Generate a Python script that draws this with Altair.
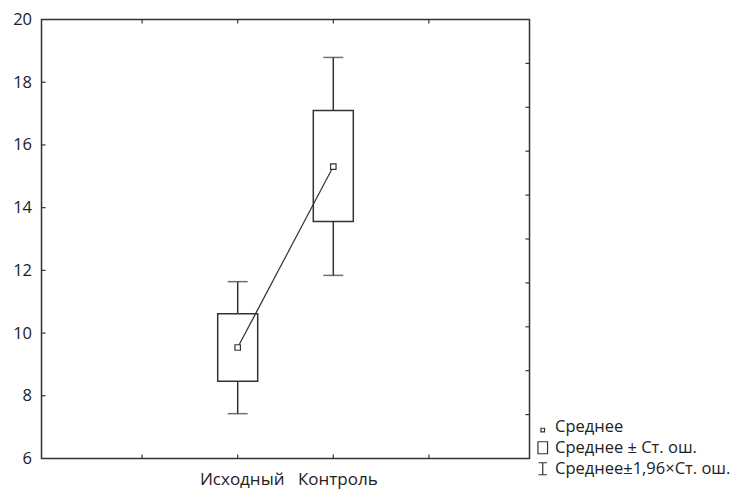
import altair as alt
import pandas as pd

# ---- data ----
categories = ["Исходный", "Контроль"]
means = [9.54, 15.31]
se_low = [8.46, 13.56]
se_high = [10.62, 17.10]
ci_low = [7.43, 11.84]
ci_high = [11.64, 18.79]

y_ticks_left = [8, 10, 12, 14, 16, 18]
y_ticks_right = [7.4, 8.8, 10.2, 11.6, 13.0, 14.4, 15.8, 17.2, 18.6]
x_ticks = [1, 2, 3, 4]

legend_items = ["Среднее", "Среднее ± Ст. ош.", "Среднее±1,96×Ст. ош."]

W, H = 488, 439
FONT = "Open Sans"
LINE = "#333333"
TEXT = "#222222"

df = pd.DataFrame({
    "cat": categories,
    "pos": [i + 2 for i in range(len(categories))],
    "mean": means,
    "se_lo": se_low,
    "se_hi": se_high,
    "ci_lo": ci_low,
    "ci_hi": ci_high,
})

label_expr = "datum.value == 2 ? '" + categories[0] + "' : datum.value == 3 ? '" + categories[1] + "' : ''"

xscale = alt.Scale(domain=[0, 5], nice=False, zero=False)
yscale = alt.Scale(domain=[6, 20], nice=False, zero=False)

x_enc = alt.X("pos:Q", scale=xscale, axis=alt.Axis(
    values=[2, 3], labelExpr=label_expr, title=None, grid=False, ticks=False,
    domain=False, labelFont=FONT, labelFontSize=17, labelColor=TEXT,
    labelPadding=13, labelOffset=4))
y_enc_axis = alt.Axis(values=[6, 8, 10, 12, 14, 16, 18, 20], title=None, grid=False,
                      ticks=False, domain=False, labelFont=FONT, labelFontSize=16.5,
                      labelColor=TEXT, labelPadding=10)

base = alt.Chart(df)

whisker = base.mark_rule(color=LINE, strokeWidth=1.5).encode(
    x=x_enc,
    y=alt.Y("ci_lo:Q", scale=yscale, axis=y_enc_axis),
    y2="ci_hi:Q",
)
cap_hi = base.mark_tick(orient="horizontal", size=20, thickness=1.5, color=LINE).encode(
    x="pos:Q", y="ci_hi:Q")
cap_lo = base.mark_tick(orient="horizontal", size=20, thickness=1.5, color=LINE).encode(
    x="pos:Q", y="ci_lo:Q")
box = base.mark_bar(size=40, fill="white", stroke=LINE, strokeWidth=1.5).encode(
    x="pos:Q", y="se_lo:Q", y2="se_hi:Q")
mean_line = base.mark_line(color=LINE, strokeWidth=1.2).encode(
    x="pos:Q", y="mean:Q")
mean_pt = base.mark_point(shape="square", size=30, filled=True, fill="white",
                          stroke=LINE, strokeWidth=1.2, opacity=1).encode(
    x="pos:Q", y="mean:Q")

# inward frame ticks
ly = alt.Chart(pd.DataFrame({"v": y_ticks_left})).mark_rule(color=LINE, strokeWidth=1.2).encode(
    y="v:Q", x=alt.value(0), x2=alt.value(4))
ry = alt.Chart(pd.DataFrame({"v": y_ticks_right})).mark_rule(color=LINE, strokeWidth=1.2).encode(
    y="v:Q", x=alt.value(W - 4), x2=alt.value(W))
bx = alt.Chart(pd.DataFrame({"v": x_ticks})).mark_rule(color=LINE, strokeWidth=1.2).encode(
    x="v:Q", y=alt.value(H - 4), y2=alt.value(H))
tx = alt.Chart(pd.DataFrame({"v": x_ticks})).mark_rule(color=LINE, strokeWidth=1.2).encode(
    x="v:Q", y=alt.value(0), y2=alt.value(4))

# legend-only layer
shapes = [
    "M-0.3,0.25H0.3V0.85H-0.3Z",
    "M-0.8,-1H0.8V1H-0.8Z",
    "M-0.7,-1H0.7M0,-1V1M-0.7,1H0.7",
]
leg = alt.Chart(pd.DataFrame({"item": legend_items})).mark_point(opacity=0).encode(
    shape=alt.Shape("item:N", scale=alt.Scale(domain=legend_items, range=shapes),
                    legend=alt.Legend(
                        title=None, orient="none", legendX=493, legendY=399,
                        padding=0, symbolSize=144, symbolFillColor="white",
                        symbolStrokeColor=LINE, symbolStrokeWidth=1.2,
                        symbolOpacity=1, labelFont=FONT, labelFontSize=16.5,
                        labelColor=TEXT, labelOffset=4, rowPadding=3,
                        labelLimit=300)),
)

chart = alt.layer(whisker, cap_hi, cap_lo, box, mean_line, mean_pt, ly, ry, bx, tx, leg).properties(
    width=W, height=H,
    background="white",
    autosize=alt.AutoSizeParams(type="none"),
    padding={"left": 33.5, "top": 11.5, "right": 213, "bottom": 30},
).configure_view(stroke=LINE, strokeWidth=1.5)

chart.save("out.html", embed_options={"renderer": "svg", "actions": False})
